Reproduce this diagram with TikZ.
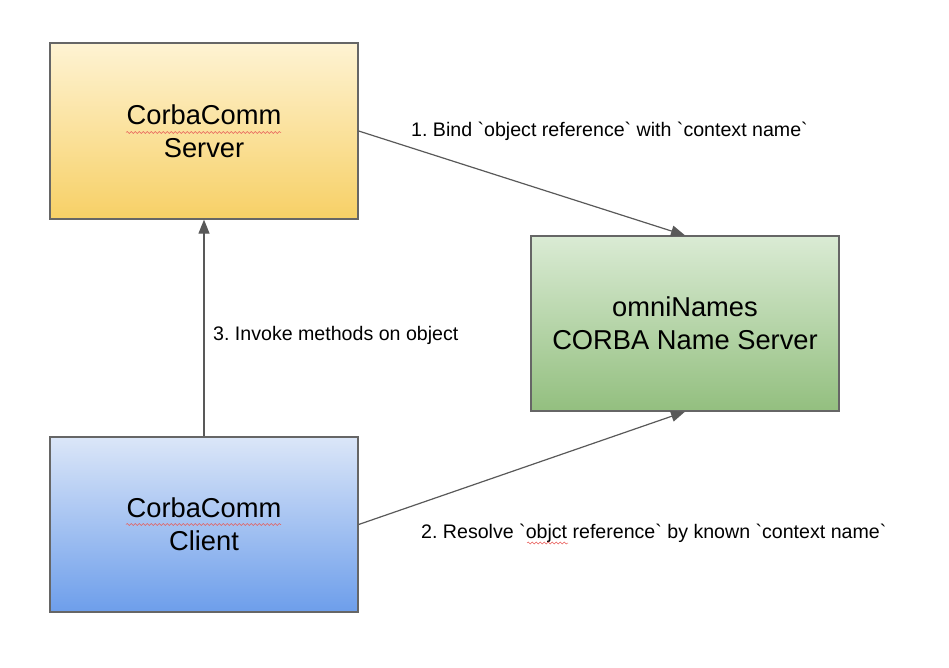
\documentclass[tikz,border=0pt]{standalone}
\usepackage{fontspec}
\setmainfont{Liberation Sans}
\usetikzlibrary{arrows.meta,decorations.pathmorphing}
\frenchspacing
\newcommand\bq{\XeTeXglyph\XeTeXcharglyph"60\relax}
\definecolor{edgegray}{HTML}{666666}
\definecolor{arrowgray}{HTML}{595959}
\definecolor{ytop}{HTML}{FEF3D3}
\definecolor{ybot}{HTML}{F7D066}
\definecolor{gtop}{HTML}{DAEBD4}
\definecolor{gbot}{HTML}{93BF7F}
\definecolor{btop}{HTML}{DBE6F8}
\definecolor{bbot}{HTML}{6D9EEB}
\definecolor{spellred}{HTML}{E85C58}
\begin{document}
\begin{tikzpicture}[x=1pt,y=-1pt,
  boxnode/.style={draw=edgegray,line width=1.3pt,rectangle,minimum width=308pt,minimum height=176pt,
    inner sep=0pt,align=center,font=\fontsize{27.3}{33}\selectfont},
  flow/.style={draw=arrowgray,line width=1.2pt,-{Triangle[length=14pt,width=11pt]}},
  lbl/.style={anchor=base west,inner sep=0pt,font=\fontsize{19.6}{23}\selectfont\frenchspacing},
  squiggle/.style={draw=spellred,line width=0.5pt,decorate,decoration={snake,amplitude=1pt,segment length=4pt}}]
\useasboundingbox (0,0) rectangle (949,668);
\node[boxnode,top color=ytop,bottom color=ybot] (server) at (204,131) {CorbaComm\\Server};
\node[boxnode,top color=gtop,bottom color=gbot,minimum height=175pt] (omni) at (685,323.5) {omniNames\\CORBA Name Server};
\node[boxnode,top color=btop,bottom color=bbot,minimum height=175pt] (client) at (204,524.5) {CorbaComm\\Client};
\draw[flow] (server.east) -- (omni.north);
\draw[flow] (client.east) -- (omni.south);
\draw[flow] (client.north) -- (server.south);
\node[lbl] (l1) at (411,137) {1. Bind \bq object reference\bq\ with \bq context name\bq};
\node[lbl] (l3) at (213,340) {3. Invoke methods on object};
\node[lbl] (l2) at (421,538) {2. Resolve \bq objct reference\bq\ by known \bq context name\bq};
\coordinate (s1a) at (126,132.5);
\coordinate (s1b) at (281,132.5);
\coordinate (s2a) at (126,524.5);
\coordinate (s2b) at (281,524.5);
\coordinate (s3a) at (527,543);
\coordinate (s3b) at (568,543);
\draw[squiggle] (s1a) -- (s1b);
\draw[squiggle] (s2a) -- (s2b);
\draw[squiggle] (s3a) -- (s3b);
\end{tikzpicture}
\end{document}
